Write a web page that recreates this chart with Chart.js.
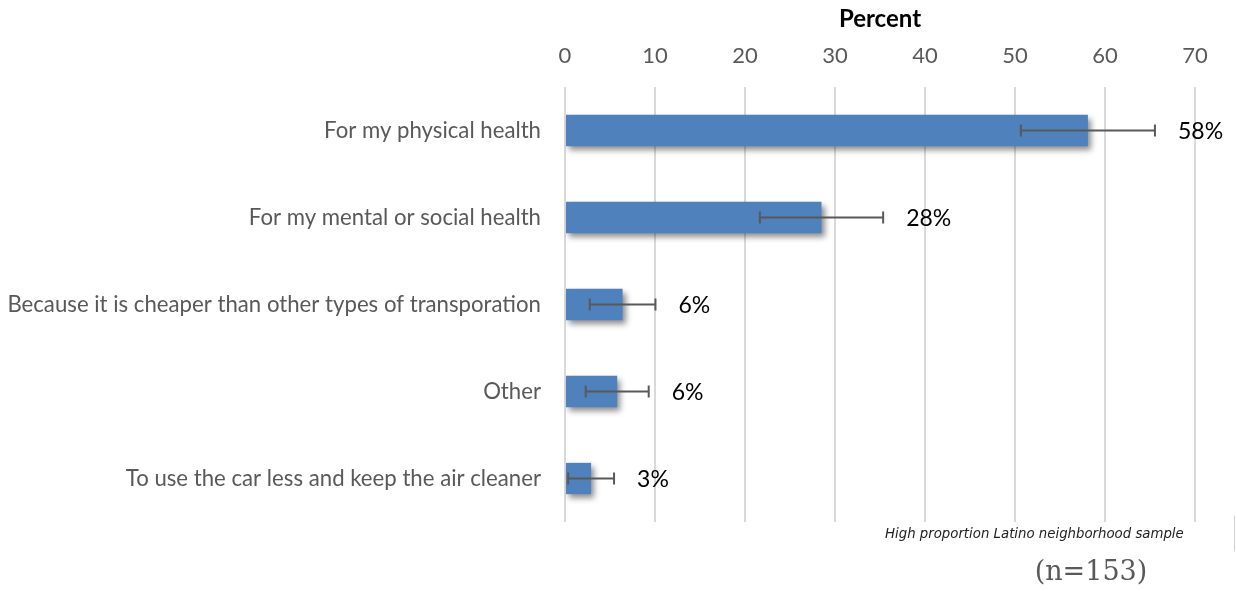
<!DOCTYPE html>
<html>
<head>
<meta charset="utf-8">
<script src="https://cdn.jsdelivr.net/npm/chart.js@4.4.1/dist/chart.umd.min.js"></script>
<style>
  html, body { margin: 0; padding: 0; background: #ffffff; }
  #wrap { width: 1237px; height: 591px; position: relative; }
</style>
</head>
<body>
<div id="wrap"><canvas id="c" width="1237" height="591"></canvas></div>
<script>
const categories = [
  'For my physical health',
  'For my mental or social health',
  'Because it is cheaper than other types of transporation',
  'Other',
  'To use the car less and keep the air cleaner'
];
const percentValues = [58.1, 28.5, 6.4, 5.8, 2.9];
const errorValues = [7.45, 6.85, 3.65, 3.5, 2.55];
const valueLabels = ['58%', '28%', '6%', '6%', '3%'];
const tickValues = [0, 10, 20, 30, 40, 50, 60, 70];
const axisTitle = 'Percent';
const noteText = 'High proportion Latino neighborhood sample';
const sampleText = '(n=153)';

const shadowPlugin = {
  id: 'barShadow',
  beforeDatasetDraw(chart) {
    const ctx = chart.ctx;
    ctx.save();
    ctx.shadowColor = 'rgba(0,0,0,0.45)';
    ctx.shadowBlur = 6;
    ctx.shadowOffsetX = 3;
    ctx.shadowOffsetY = 4;
  },
  afterDatasetDraw(chart) {
    chart.ctx.restore();
  }
};

const errorPlugin = {
  id: 'errorBars',
  afterDatasetsDraw(chart) {
    const ctx = chart.ctx;
    const xs = chart.scales.x;
    const meta = chart.getDatasetMeta(0);
    ctx.save();
    meta.data.forEach((bar, i) => {
      const y = bar.y;
      const lo = xs.getPixelForValue(percentValues[i] - errorValues[i]);
      const hi = xs.getPixelForValue(percentValues[i] + errorValues[i]);
      ctx.strokeStyle = '#595959';
      ctx.lineWidth = 2;
      ctx.beginPath();
      ctx.moveTo(lo, y); ctx.lineTo(hi, y);
      ctx.moveTo(lo, y - 6); ctx.lineTo(lo, y + 6);
      ctx.moveTo(hi, y - 6); ctx.lineTo(hi, y + 6);
      ctx.stroke();
      ctx.fillStyle = '#000000';
      ctx.font = '23px Lato, "Open Sans", sans-serif';
      ctx.textAlign = 'left';
      ctx.textBaseline = 'middle';
      ctx.fillText(valueLabels[i], hi + 23, y + 1);
    });
    ctx.restore();
  }
};

const notePlugin = {
  id: 'notes',
  afterDraw(chart) {
    const ctx = chart.ctx;
    ctx.save();
    ctx.fillStyle = '#222222';
    ctx.font = 'italic 13.3px "DejaVu Sans", sans-serif';
    ctx.textAlign = 'left';
    ctx.textBaseline = 'middle';
    ctx.fillText(noteText, 885, 535);
    ctx.fillStyle = '#595959';
    ctx.font = '27px "DejaVu Serif", "Liberation Serif", serif';
    ctx.textAlign = 'center';
    ctx.fillText(sampleText, 1091, 573);
    ctx.strokeStyle = '#d0d0d0';
    ctx.lineWidth = 1;
    ctx.beginPath();
    ctx.moveTo(1234.5, 516); ctx.lineTo(1234.5, 551);
    ctx.stroke();
    ctx.restore();
  }
};

new Chart(document.getElementById('c'), {
  type: 'bar',
  data: {
    labels: categories,
    datasets: [{
      data: percentValues,
      backgroundColor: '#4F81BD',
      borderWidth: 0,
      barPercentage: 0.36,
      categoryPercentage: 1.0
    }]
  },
  options: {
    indexAxis: 'y',
    responsive: false,
    animation: false,
    devicePixelRatio: 1,
    layout: { padding: { left: 0, right: 42, top: 0, bottom: 69 } },
    plugins: {
      legend: { display: false },
      tooltip: { enabled: false }
    },
    scales: {
      x: {
        position: 'top',
        min: 0,
        max: 70,
        afterBuildTicks(scale) { scale.ticks = tickValues.map(v => ({ value: v })); },
        afterFit(scale) { scale.height = 87; },
        grid: { color: '#d9d9d9', lineWidth: 2, drawTicks: false },
        border: { display: false },
        ticks: {
          color: '#595959',
          font: { family: 'Lato, "Open Sans", sans-serif', size: 22 },
          padding: 18
        },
        title: {
          display: true,
          text: axisTitle,
          color: '#000000',
          font: { family: 'Lato, "Open Sans", sans-serif', size: 24, weight: 'bold' },
          padding: { top: 5, bottom: 0 }
        }
      },
      y: {
        afterFit(scale) { scale.width = 565; },
        grid: { display: false, drawTicks: false },
        border: { display: false },
        ticks: {
          color: '#595959',
          font: { family: 'Lato, "Open Sans", sans-serif', size: 22.2 },
          padding: 24
        }
      }
    }
  },
  plugins: [shadowPlugin, errorPlugin, notePlugin]
});
</script>
</body>
</html>
